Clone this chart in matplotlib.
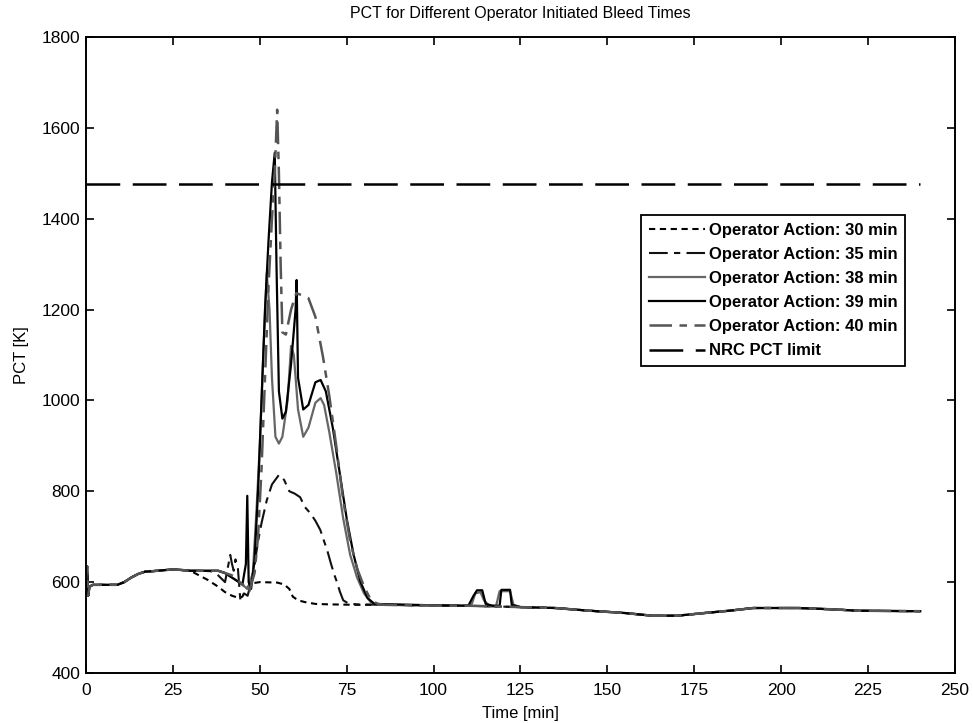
"""
PCT for different operator initiated bleed times (values read off the reference plot)
"""

import matplotlib
matplotlib.use('Agg')
import matplotlib.pyplot as plt
import numpy as np


# shared early part of every run (t in min, PCT in K)
BASE_T = [0, 0.3, 0.6, 1.0, 2, 5, 9, 11, 13, 15, 17, 19, 22, 25, 27, 30]
BASE_K = [600, 635, 570, 590, 594, 594, 594, 600, 610, 618, 623, 624, 626, 628, 627, 625]

# shared long-term part
TAIL_T = [86, 95, 105, 110, 125, 135, 145, 155, 163, 170, 178, 185, 192, 205, 215, 222, 240]
TAIL_K = [550, 549, 548, 548, 545, 543, 537, 532, 526, 526, 532, 537, 543, 543, 540, 537, 536]

# per-run transient between t=30 and t=86
T30 = [32, 35, 38, 40, 42, 44, 45, 46, 47.5, 50, 55, 57, 58.5, 59.5, 61, 63, 66, 70, 78]
K30 = [617, 605, 590, 578, 570, 565, 568, 585, 597, 600, 599, 595, 585, 568, 560, 556, 552, 551, 550]

T35 = [33, 36, 38, 40, 41, 41.5, 42, 42.5, 43, 43.7, 44.4, 45.5, 46.5, 47.5, 48.5, 49.5,
       50.5, 52, 53.5, 55.5, 57, 58.5, 60, 61.6, 63, 64.5, 66, 67.4, 68.5, 69.4, 70.5,
       71.5, 72.3, 73, 74, 75.5, 78]
K35 = [625, 624, 615, 600, 640, 660, 640, 625, 650, 630, 561, 575, 570, 600, 640, 690,
       730, 780, 815, 836, 825, 800, 795, 787, 765, 752, 735, 715, 690, 670, 640,
       615, 598, 580, 560, 553, 551]

T38 = [35, 38, 40, 44, 46.5, 48, 49, 50, 51, 52, 52.8, 53.5, 54.5, 55.5, 56.5, 58, 59,
       59.8, 61, 62.5, 64, 66, 67.5, 68.5, 70, 72, 74, 76, 78, 80, 82, 84, 100, 110,
       111, 112, 113.5, 114.5, 116, 118, 119, 122, 123, 125]
K38 = [625, 625, 620, 600, 585, 620, 750, 900, 1100, 1280, 1200, 1050, 920, 905, 920, 1000,
       1120, 1100, 980, 920, 940, 995, 1005, 990, 930, 840, 740, 660, 610, 575, 555, 550, 549, 548,
       552, 575, 578, 560, 548, 548, 580, 580, 550, 545]

T39 = [35, 38, 40, 43, 45, 46, 46.4, 46.8, 47.5, 48.5, 49.5, 50.5, 51.5, 52.5, 53.5, 54.3,
       54.8, 55.5, 56.5, 57.5, 59, 60.3, 60.6, 61, 62.5, 64, 66, 67.5, 69, 71, 73, 75,
       77, 79, 81, 83, 100, 110, 111.5, 112.5, 114, 115, 117, 119, 119.5, 122, 122.5, 125]
K39 = [625, 625, 620, 605, 595, 640, 790, 600, 585, 650, 800, 1000, 1200, 1350, 1480, 1545,
       1300, 1020, 960, 975, 1080, 1200, 1265, 1050, 980, 990, 1040, 1045, 1020, 940, 840, 740,
       660, 600, 565, 552, 549, 548, 570, 582, 582, 552, 548, 548, 583, 583, 550, 545]

T40 = [35, 38, 40, 42, 45, 47, 48.5, 49.5, 50.5, 51.5, 52.5, 53.5, 54.3, 55, 55.5, 56, 56.5,
       57.5, 59, 60.5, 62, 64, 66, 68.2, 70, 72, 74, 76, 78, 80, 82, 84]
K40 = [625, 625, 620, 615, 595, 580, 620, 700, 850, 1050, 1250, 1400, 1500, 1640, 1500, 1300, 1150,
       1145, 1200, 1236, 1232, 1225, 1184, 1095, 1010, 900, 780, 690, 630, 590, 560, 552]

LIMIT_T = [0, 240]
LIMIT_K = [1477, 1477]

LABELS = ["Operator Action: 30 min", "Operator Action: 35 min", "Operator Action: 38 min",
          "Operator Action: 39 min", "Operator Action: 40 min", "NRC PCT limit"]

X_TICKS = [0, 25, 50, 75, 100, 125, 150, 175, 200, 225, 250]
Y_TICKS = [400, 600, 800, 1000, 1200, 1400, 1600, 1800]


def full_curve(t_mid, k_mid):
    """Stitch the shared start, the run's transient and the shared tail together."""
    t_end = t_mid[-1]
    t_tail = [t for t in TAIL_T if t > t_end]
    k_tail = [k for t, k in zip(TAIL_T, TAIL_K) if t > t_end]
    return (np.array(BASE_T + list(t_mid) + t_tail),
            np.array(BASE_K + list(k_mid) + k_tail))


plt.rcParams['font.family'] = ['Liberation Sans', 'DejaVu Sans']

fig = plt.figure(figsize=(9.73, 7.23), dpi=100)
ax = fig.add_axes([0.0884, 0.0692, 0.893, 0.8796])

styles = [
    dict(color="black", lw=1.5, ls=(0, (3, 2.2))),
    dict(color="#111111", lw=1.5, ls=(0, (9, 3, 3, 3))),
    dict(color="#666666", lw=1.6, ls="-"),
    dict(color="black", lw=1.6, ls="-"),
    dict(color="#555555", lw=1.8, ls=(0, (9, 3, 3, 3))),
]
curves = [(T30, K30), (T35, K35), (T38, K38), (T39, K39), (T40, K40)]

for (tm, km), st, lab in zip(curves, styles, LABELS):
    t, k = full_curve(tm, km)
    ax.plot(t, k, label=lab, **st)

ax.plot(LIMIT_T, LIMIT_K, color="black", lw=1.8, ls=(0, (13.5, 5)), label=LABELS[-1])

ax.set_xlim(0, 250)
ax.set_ylim(400, 1800)
ax.set_xticks(X_TICKS)
ax.set_yticks(Y_TICKS)
ax.tick_params(direction="in", length=6, width=1.2, top=True, right=True,
               labelsize=12.5, pad=4)
ax.tick_params(axis="x", pad=7)
for s in ax.spines.values():
    s.set_linewidth(1.4)

ax.set_xlabel("Time [min]", fontsize=12, labelpad=6)
ax.set_ylabel("PCT [K]", fontsize=12, labelpad=9)
ax.set_title("PCT for Different Operator Initiated Bleed Times", fontsize=11.5, pad=14)

leg = ax.legend(loc="upper right", bbox_to_anchor=(0.952, 0.733),
                prop=dict(size=12, weight="bold"),
                handlelength=3.4, handletextpad=0.2, labelspacing=0.55,
                borderpad=0.45, fancybox=False, framealpha=1, edgecolor="black")
leg.get_frame().set_linewidth(1.3)

fig.savefig("out.png", dpi=100)
plt.close(fig)
